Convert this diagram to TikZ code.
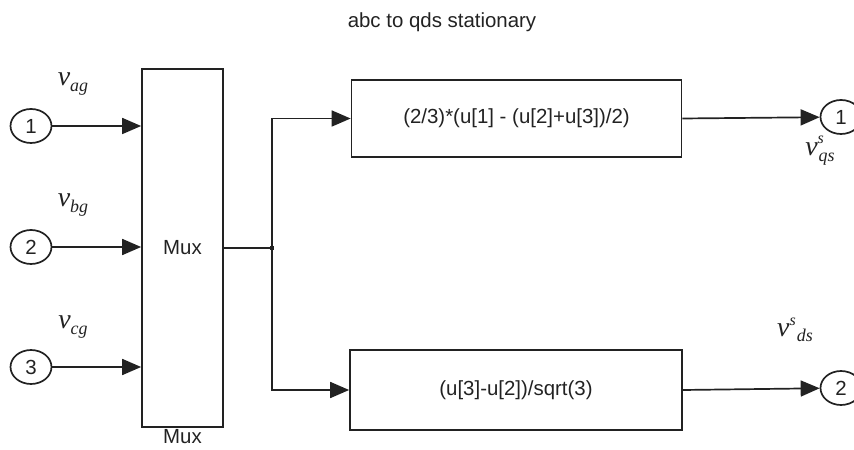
\documentclass[tikz,border=0pt]{standalone}
\usepackage{fontspec}
\setmainfont{Liberation Sans}
\newfontfamily\varfont{Liberation Serif}
\usetikzlibrary{arrows.meta,shapes.geometric}
\definecolor{ink}{HTML}{222222}

% signal names: italic v with subscript, and with a superscript s
\newcommand\sig[1]{{\varfont\itshape\fontsize{28}{28}\selectfont v\raisebox{-0.4ex}{\fontsize{18}{18}\selectfont #1}}}
\newcommand\sigs[1]{{\varfont\itshape\fontsize{28}{28}\selectfont v\rlap{\raisebox{0.9ex}{\fontsize{16}{16}\selectfont s}}\raisebox{-0.5ex}{\fontsize{18}{18}\selectfont\hspace{1pt}#1}}}
\newcommand\sigss[1]{{\varfont\itshape\fontsize{28}{28}\selectfont v\raisebox{0.9ex}{\fontsize{16}{16}\selectfont s}\raisebox{-0.4ex}{\fontsize{18}{18}\selectfont\hspace{1pt}#1}}}

\begin{document}
\begin{tikzpicture}[x=1bp,y=-1bp,
  line width=1.7bp, draw=ink, text=ink,
  txt/.style={font=\fontsize{20.5}{22}\selectfont},
  port/.style={ellipse, draw, minimum width=41bp, minimum height=34bp, inner sep=0pt, txt},
  block/.style={draw, rectangle, inner sep=0pt, txt},
  sigline/.style={-{Triangle[length=19bp,width=16bp]}},
]
\useasboundingbox (0,0) rectangle (854,450);
\clip (0,0) rectangle (854,450);

% title
\node[txt] (title) at (442,22) {abc to qds stationary};

% input ports
\node[port] (in1) at (31,126) {1};
\node[port] (in2) at (31,247) {2};
\node[port] (in3) at (31,367) {3};

% multiplexer
\node[block, minimum width=81bp, minimum height=358bp] (mux) at (182.5,248) {Mux};
\node[txt, anchor=north, inner sep=0.5bp] (muxname) at (mux.south) {Mux};

% coordinates on the mux input side
\coordinate (m1) at (mux.west |- in1);
\coordinate (m2) at (mux.west |- in2);
\coordinate (m3) at (mux.west |- in3);

% function blocks
\node[block, minimum width=330bp, minimum height=77bp] (f1) at (516.5,118.5) {(2/3)*(u[1] - (u[2]+u[3])/2)};
\node[block, minimum width=332bp, minimum height=80bp] (f2) at (516,390) {(u[3]-u[2])/sqrt(3)};

% output ports
\node[port] (out1) at (841,117) {1};
\node[port] (out2) at (841,388) {2};

% branch point
\coordinate (br) at (272,248);
\fill[ink] (br) ++(-2,-2) rectangle ++(4,4);

% signal names
\node (lab1) at (73,84) {\sig{ag}};
\node (lab2) at (73,205) {\sig{bg}};
\node (lab3) at (73,327) {\sig{cg}};
\node (labq) at (820,151) {\sigs{qs}};
\node (labd) at (795,330) {\sigss{ds}};

% connectors
\draw[sigline] (in1) -- (m1);
\draw[sigline] (in2) -- (m2);
\draw[sigline] (in3) -- (m3);
\draw (mux.east |- br) -- (br);
\draw[sigline] (br) |- (f1.west);
\draw[sigline] (br) |- (f2.west);
\draw[sigline] (f1.east) -- (out1);
\draw[sigline] (f2.east) -- (out2);
\end{tikzpicture}
\end{document}
